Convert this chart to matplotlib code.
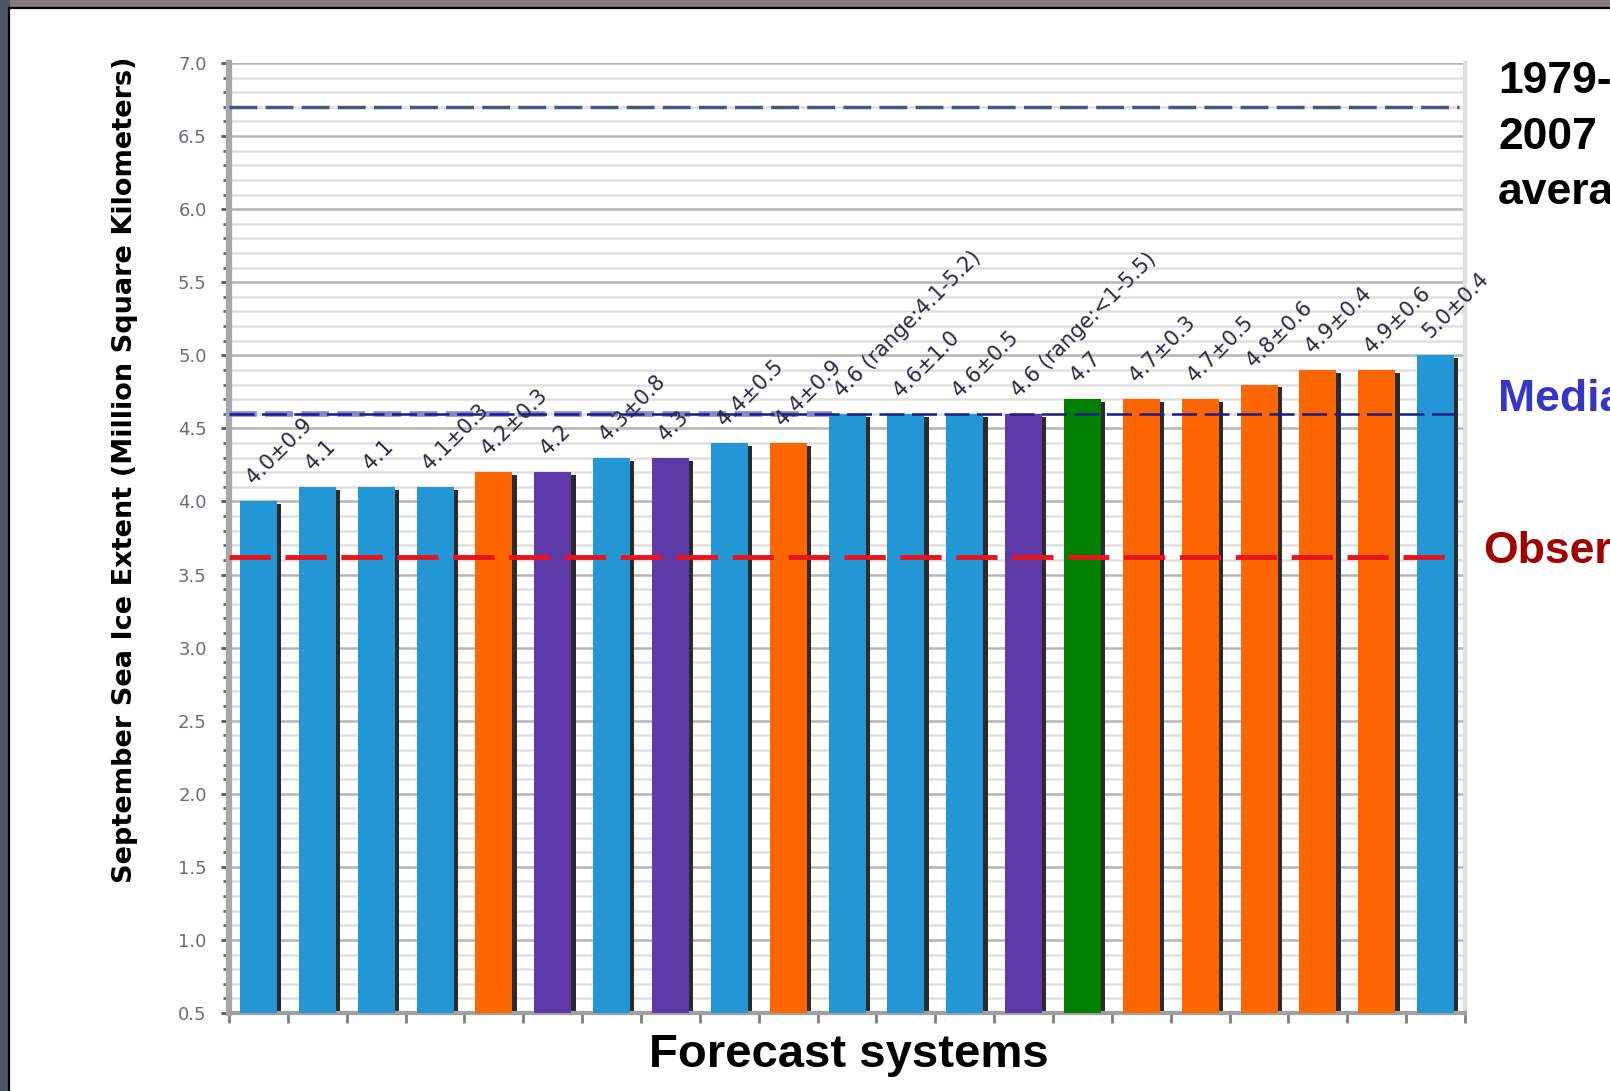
"""Bar chart of September sea ice extent forecasts by forecast system."""

import matplotlib

matplotlib.use("Agg")
import matplotlib.pyplot as plt
import numpy as np
from matplotlib.patches import Rectangle
from matplotlib.ticker import FormatStrFormatter, MultipleLocator

# forecast values (million km^2), sorted low to high
forecast_values = [4.0, 4.1, 4.1, 4.1, 4.2, 4.2, 4.3, 4.3, 4.4, 4.4, 4.6,
                   4.6, 4.6, 4.6, 4.7, 4.7, 4.7, 4.8, 4.9, 4.9, 5.0]
forecast_labels = ["4.0±0.9", "4.1", "4.1", "4.1±0.3", "4.2±0.3", "4.2",
                   "4.3±0.8", "4.3", "4.4±0.5", "4.4±0.9",
                   "4.6 (range:4.1-5.2)", "4.6±1.0", "4.6±0.5",
                   "4.6 (range:<1-5.5)", "4.7", "4.7±0.3", "4.7±0.5",
                   "4.8±0.6", "4.9±0.4", "4.9±0.6", "5.0±0.4"]
method_keys = ["blue", "blue", "blue", "blue", "orange", "purple", "blue",
               "purple", "blue", "orange", "blue", "blue", "blue", "purple",
               "green", "orange", "orange", "orange", "orange", "orange",
               "blue"]

avg_1979_2007 = 6.7
median_forecast = 4.6
observed_extent = 3.62

palette = {"blue": "#2396d6", "orange": "#ff6600",
           "purple": "#5e3aa8", "green": "#007f00"}

W, H = 1610, 1091


def fx(px):
    return px / W


def fy(py):
    return 1 - py / H


fig = plt.figure(figsize=(W / 100, H / 100), dpi=100, facecolor="#857a80")
# slide background strip on the left, then the white panel behind the axes
fig.patches.append(Rectangle((0, 0), fx(10), 1, transform=fig.transFigure,
                             facecolor="#4f5666", edgecolor="none", zorder=-2))
fig.patches.append(Rectangle((fx(9), -0.02), 1.1, fy(8) + 0.02,
                             transform=fig.transFigure, facecolor="white",
                             edgecolor="black", lw=1.6, zorder=-1))

ax = fig.add_axes([fx(229), fy(1013), fx(1465 - 229), (1013 - 63) / H])
ax.set_facecolor("white")

x = np.arange(len(forecast_values))
vals = np.array(forecast_values)
colors = [palette[k] for k in method_keys]

# drop shadow strip on the right of each bar, then the bar itself
ax.bar(x + 0.35, vals - 0.02, width=0.075, color="#2b2b2b", zorder=2)
ax.bar(x + 0.001, vals, width=0.628, color=colors, zorder=3)

for i, (v, lab) in enumerate(zip(vals, forecast_labels)):
    ax.text(i - 0.08, v + 0.11, lab, rotation=45, rotation_mode="anchor",
            ha="left", va="baseline", fontsize=15, color="#2a2a40",
            zorder=5, clip_on=False)

ax.axhline(avg_1979_2007, xmax=0.995, color="#3d5a82", lw=2.5,
           dashes=(8, 2.4), zorder=4)
ax.plot([-0.5, 9.75], [median_forecast] * 2, color="#8a84c8", lw=4,
        dashes=(5, 1.5), zorder=4)
ax.axhline(median_forecast, xmax=0.995, color="#1c1c8a", lw=1.8,
           dashes=(10, 3), zorder=4)
ax.axhline(observed_extent, xmax=0.995, color="#e8141c", lw=3.5,
           dashes=(8.5, 3), zorder=4)

ax.set_xlim(-0.5, len(vals) - 0.5)
ax.set_ylim(0.5, 7.0)
ax.yaxis.set_major_locator(MultipleLocator(0.5))
ax.yaxis.set_minor_locator(MultipleLocator(0.1))
ax.yaxis.set_major_formatter(FormatStrFormatter("%.1f"))
ax.set_xticks(np.arange(-0.5, len(vals), 1.0))
ax.set_xticklabels([])

ax.set_axisbelow(True)
ax.grid(which="minor", axis="y", color="#e0e0e0", lw=1.8, zorder=0)
ax.grid(which="major", axis="y", color="#b5b5b5", lw=1.8, zorder=0)

ax.tick_params(axis="y", which="major", length=6, width=2, color="#555555",
               labelsize=13, labelcolor="#6b6b7a", pad=10)
ax.tick_params(axis="y", which="minor", length=4, width=2, color="#666666")
ax.tick_params(axis="x", length=7, width=2, color="#808080")

ax.spines["top"].set_visible(False)
ax.spines["left"].set_color("#a8a8a8")
ax.spines["left"].set_linewidth(4.5)
ax.spines["bottom"].set_color("#a0a0a0")
ax.spines["bottom"].set_linewidth(3)
ax.spines["right"].set_color("#dddddd")
ax.spines["right"].set_linewidth(3)

fig.text(fx(125), fy((56 + 883) / 2),
         "September Sea Ice Extent (Million Square Kilometers)",
         rotation=90, ha="center", va="center", fontsize=19.5,
         fontweight="bold", family="DejaVu Sans")
fig.text(fx(849), fy(1067), "Forecast systems", ha="center", va="baseline",
         fontsize=34, fontweight="bold", family="Liberation Sans")

side = dict(fontsize=32, fontweight="bold", family="Liberation Sans",
            ha="left", va="baseline")
fig.text(fx(1498), fy(93), "1979-", color="black", **side)
fig.text(fx(1498), fy(149), "2007", color="black", **side)
fig.text(fx(1498), fy(204), "average", color="black", **side)
fig.text(fx(1498), fy(411), "Median", color="#3535c8", **side)
fig.text(fx(1483), fy(563), "Observed", color="#a00000", **side)

fig.savefig("out.png", dpi=100, facecolor=fig.get_facecolor())
